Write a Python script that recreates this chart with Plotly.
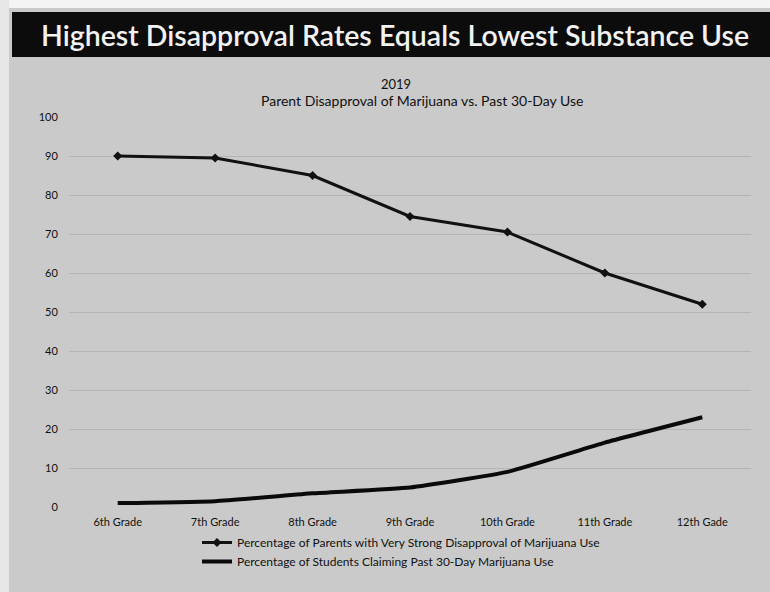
import plotly.graph_objects as go

grades = ["6th Grade", "7th Grade", "8th Grade", "9th Grade", "10th Grade", "11th Grade", "12th Gade"]
parents_disapproval = [90, 89.5, 85, 74.5, 70.5, 60, 52]
students_use = [1, 1.5, 3.5, 5, 9, 16.5, 23]
y_ticks = [0, 10, 20, 30, 40, 50, 60, 70, 80, 90, 100]

W, H = 770, 592
L, R, T, B = 69, 19, 117, 85
pw, ph = W - L - R, H - T - B

def px(x):
    return (x - L) / pw

def py(y):
    return (H - B - y) / ph

fig = go.Figure()
fig.add_trace(go.Scatter(
    x=grades, y=parents_disapproval, mode="lines+markers",
    name="Percentage of Parents with Very Strong Disapproval of Marijuana Use",
    line=dict(color="#111111", width=3),
    marker=dict(symbol="diamond", size=7, color="#111111"),
))
fig.add_trace(go.Scatter(
    x=grades, y=students_use, mode="lines",
    name="Percentage of Students Claiming Past 30-Day Marijuana Use",
    line=dict(color="#0a0a0a", width=4, shape="spline", smoothing=0.4),
))

shapes = [
    dict(type="rect", xref="paper", yref="paper", x0=px(0), x1=px(W), y0=py(0), y1=py(8),
         fillcolor="#f4f4f4", line=dict(width=0), layer="below"),
    dict(type="rect", xref="paper", yref="paper", x0=px(0), x1=px(9), y0=py(0), y1=py(H),
         fillcolor="#e6e6e6", line=dict(width=0), layer="below"),
    dict(type="rect", xref="paper", yref="paper", x0=px(12), x1=px(W), y0=py(12), y1=py(57),
         fillcolor="#0c0c0c", line=dict(width=0), layer="below"),
]

annotations = [
    dict(text="Highest Disapproval Rates Equals Lowest Substance Use", xref="paper", yref="paper",
         x=px(395), y=py(35), xanchor="center", yanchor="middle", showarrow=False,
         font=dict(family="Lato", size=28.5, color="#f2f2f2", weight=600)),
    dict(text="2019", xref="paper", yref="paper", x=px(396), y=py(84), xanchor="center",
         yanchor="middle", showarrow=False, font=dict(family="Lato", size=13, color="#111111")),
    dict(text="Parent Disapproval of Marijuana vs. Past 30-Day Use", xref="paper", yref="paper",
         x=px(422), y=py(101), xanchor="center", yanchor="middle", showarrow=False,
         font=dict(family="Lato", size=14, color="#111111")),
]

fig.update_layout(
    width=W, height=H,
    margin=dict(l=L, r=R, t=T, b=B),
    paper_bgcolor="#cacaca",
    plot_bgcolor="rgba(0,0,0,0)",
    shapes=shapes,
    annotations=annotations,
    showlegend=True,
    legend=dict(orientation="v", x=px(401), xanchor="center", y=py(528), yanchor="top",
                font=dict(family="Lato", size=12, color="#111111"), bgcolor="rgba(0,0,0,0)",
                itemwidth=30, tracegroupgap=4),
    xaxis=dict(type="category", range=[-0.5, 6.5], showgrid=False, showline=False, zeroline=False,
               tickfont=dict(family="Lato", size=11, color="#111111"),
               ticks="outside", ticklen=5, tickcolor="rgba(0,0,0,0)"),
    yaxis=dict(range=[0, 100], tickvals=y_ticks, showgrid=True, gridcolor="rgba(0,0,0,0.10)",
               zeroline=False, showline=False,
               tickfont=dict(family="Lato", size=11, color="#111111"),
               ticks="outside", ticklen=8, tickcolor="rgba(0,0,0,0)"),
    font=dict(family="Lato"),
)

fig.write_html("out.html")
